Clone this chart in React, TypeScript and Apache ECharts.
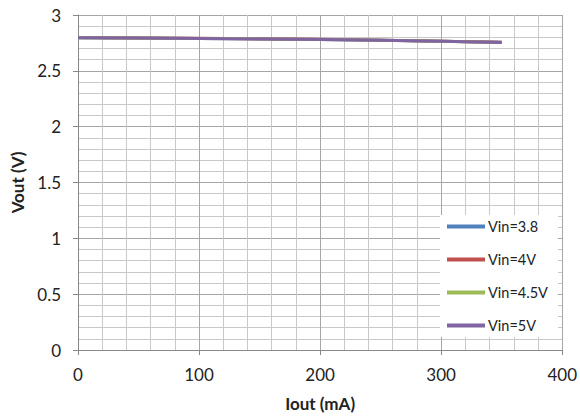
import React, { useEffect, useRef } from "react";
import * as echarts from "echarts";

const iout = [0, 50, 100, 150, 200, 250, 300, 350];
const vin38 = [2.797, 2.794, 2.79, 2.786, 2.781, 2.774, 2.765, 2.755];
const vin4 = [2.798, 2.795, 2.791, 2.787, 2.782, 2.775, 2.766, 2.756];
const vin45 = [2.797, 2.794, 2.79, 2.786, 2.78, 2.774, 2.765, 2.754];
const vin5 = [2.796, 2.793, 2.79, 2.785, 2.78, 2.773, 2.764, 2.754];
const seriesNames = ["Vin=3.8", "Vin=4V", "Vin=4.5V", "Vin=5V"];
const colors = ["#4f81bd", "#c0504d", "#9bbb59", "#8064a2"];

const FONT = "Lato";

export default function App() {
  const ref = useRef<HTMLDivElement>(null);
  useEffect(() => {
    document.body.style.margin = "0";
    const chart = echarts.init(ref.current!, null, { renderer: "svg" });
    const datas = [vin38, vin4, vin45, vin5];
    chart.setOption({
      animation: false,
      backgroundColor: "#ffffff",
      textStyle: { fontFamily: FONT },
      grid: { left: 78, right: 16, top: 15, bottom: 66, containLabel: false },
      xAxis: {
        type: "value",
        min: 0,
        max: 400,
        interval: 100,
        name: "Iout (mA)",
        nameLocation: "middle",
        nameGap: 45,
        nameTextStyle: { fontFamily: FONT, fontSize: 17, fontWeight: "bold", color: "#222" },
        axisLine: { show: true, lineStyle: { color: "#888", width: 1 } },
        axisTick: { show: true, length: 5, lineStyle: { color: "#888" } },
        axisLabel: { fontFamily: FONT, fontSize: 17, color: "#222", margin: 16 },
        splitLine: { show: true, lineStyle: { color: "#a6a6a6", width: 1 } },
        minorTick: { show: false, splitNumber: 5 },
        minorSplitLine: { show: true, lineStyle: { color: "#c8c8c8", width: 1 } },
      },
      yAxis: {
        type: "value",
        min: 0,
        max: 3,
        interval: 0.5,
        name: "Vout (V)",
        nameLocation: "middle",
        nameGap: 50,
        nameTextStyle: { fontFamily: FONT, fontSize: 17, fontWeight: "bold", color: "#222" },
        axisLine: { show: true, lineStyle: { color: "#888", width: 1 } },
        axisTick: { show: true, length: 5, lineStyle: { color: "#888" } },
        axisLabel: { fontFamily: FONT, fontSize: 17, color: "#222", margin: 17 },
        splitLine: { show: true, lineStyle: { color: "#a6a6a6", width: 1 } },
        minorTick: { show: false, splitNumber: 5 },
        minorSplitLine: { show: true, lineStyle: { color: "#c8c8c8", width: 1 } },
      },
      legend: {
        show: true,
        orient: "vertical",
        left: 440,
        top: 215,
        width: 117,
        backgroundColor: "#ffffff",
        padding: [4, 10, 4, 7],
        itemWidth: 38,
        itemHeight: 4,
        itemGap: 18,
        icon: "rect",
        textStyle: { fontFamily: FONT, fontSize: 14.5, color: "#222", padding: [0, 0, 0, -2] },
        data: seriesNames,
      },
      series: datas.map((d, i) => ({
        name: seriesNames[i],
        type: "line",
        data: iout.map((x, j) => [x, d[j]]),
        showSymbol: false,
        symbol: "none",
        lineStyle: { color: colors[i], width: 3 },
        itemStyle: { color: colors[i] },
        z: 2 + i,
      })),
    });
    return () => chart.dispose();
  }, []);
  return <div ref={ref} style={{ width: 580, height: 417 }} />;
}
